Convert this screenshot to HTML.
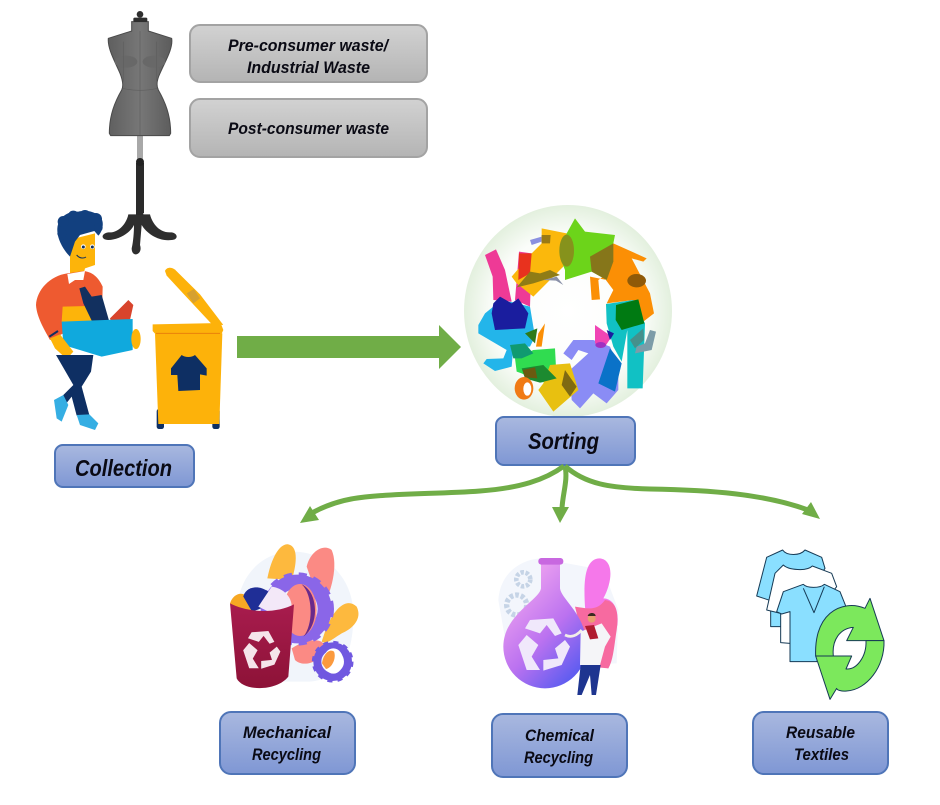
<!DOCTYPE html>
<html><head><meta charset="utf-8"><style>
html,body{margin:0;padding:0;background:#fff}
svg{display:block}
text{font-family:"Liberation Sans",sans-serif;font-weight:bold;font-style:italic;fill:#0a0a14}
</style></head><body>
<svg width="940" height="805" viewBox="0 0 940 805" xmlns="http://www.w3.org/2000/svg">
<defs>
<linearGradient id="gr" x1="0" y1="0" x2="0" y2="1"><stop offset="0" stop-color="#d2d2d2"/><stop offset="1" stop-color="#b4b4b4"/></linearGradient>
<linearGradient id="bl" x1="0" y1="0" x2="0" y2="1"><stop offset="0" stop-color="#a9b8df"/><stop offset="1" stop-color="#7f97d4"/></linearGradient>
<radialGradient id="halo"><stop offset="0" stop-color="#fff"/><stop offset=".72" stop-color="#fbfdfa"/><stop offset="1" stop-color="#e3f0de"/></radialGradient>
<linearGradient id="man" x1="0" y1="0" x2="1" y2="0"><stop offset="0" stop-color="#5f5f5f"/><stop offset=".5" stop-color="#777"/><stop offset="1" stop-color="#5c5c5c"/></linearGradient>
<linearGradient id="flask" x1=".2" y1=".1" x2=".8" y2=".95"><stop offset="0" stop-color="#f0a4f0"/><stop offset=".55" stop-color="#bb72f0"/><stop offset="1" stop-color="#5c5cf0"/></linearGradient>
<linearGradient id="binr" x1="0" y1="0" x2="0" y2="1"><stop offset="0" stop-color="#a81c4e"/><stop offset="1" stop-color="#8d1237"/></linearGradient>
</defs>

<!-- mannequin -->
<rect x="137" y="135" width="6" height="27" fill="#a8a8a8"/>
<rect x="136" y="163" width="8" height="50" fill="#2a2a2a"/>
<circle cx="140" cy="162" r="4" fill="#222"/>
<g transform="translate(90,5) scale(.33333)">
<circle cx="150" cy="28" r="10" fill="#2e2e2e"/>
<path d="M125,50 H175 V78 L245,100 C250,130 225,170 210,205 C198,230 200,245 205,255 C225,290 242,330 242,385 L238,392 H62 L58,385 C58,330 75,290 95,255 C100,245 100,230 90,205 C75,170 52,130 55,100 L125,78 Z" fill="url(#man)" stroke="#4a4a4a" stroke-width="3"/>
<rect x="130" y="38" width="42" height="13" rx="4" fill="#2e2e2e"/>
<ellipse cx="108" cy="170" rx="34" ry="18" fill="#686868"/>
<ellipse cx="192" cy="170" rx="34" ry="18" fill="#686868"/>
<path d="M150,78 V390 M98,250 C130,258 170,258 202,250 M100,110 V230 M200,110 V230" fill="none" stroke="#5e5e5e" stroke-width="2"/>
</g>

<!-- person + bin + stand foot -->
<g transform="translate(30,205) scale(.33333)">
<path d="M295,28 H360 C365,50 385,85 425,82 C445,85 445,105 425,105 C385,110 350,85 335,60 L330,120 C340,150 305,160 305,130 C310,110 312,80 312,60 C300,85 265,105 235,105 C212,105 212,85 235,82 C265,85 290,55 295,28 Z" fill="#2e2e2e"/>
<rect x="318" y="0" width="22" height="30" fill="#2a2a2a"/>
<path d="M135,100 L195,85 L195,180 L165,190 L160,210 L120,210 L120,140 Z" fill="#fdb40a"/>
<g fill="#12407f">
<path d="M82,70 C85,35 115,18 145,20 C175,12 215,25 218,52 C220,70 212,85 205,92 L193,78 L150,90 L135,110 L120,155 C105,140 80,105 82,70 Z"/>
<circle cx="100" cy="50" r="17"/><circle cx="130" cy="34" r="17"/><circle cx="165" cy="32" r="17"/><circle cx="198" cy="42" r="18"/><circle cx="205" cy="68" r="13"/><circle cx="96" cy="85" r="14"/><circle cx="108" cy="115" r="14"/>
</g>
<circle cx="160" cy="125" r="7" fill="#fff"/><circle cx="187" cy="125" r="7" fill="#fff"/>
<circle cx="160" cy="126" r="4.5" fill="#12305f"/><circle cx="187" cy="126" r="4.5" fill="#12305f"/>
<path d="M140,150 C150,162 162,160 168,156" fill="none" stroke="#12305f" stroke-width="3"/>
<path d="M112,205 C60,212 20,255 18,300 C20,340 50,385 60,405 L100,385 L100,352 L200,352 L217,290 L218,245 C205,215 185,200 160,198 Z" fill="#ee5a30"/>
<path d="M112,207 L165,198 L160,225 L135,225 L117,237 Z" fill="#fff"/>
<path d="M98,305 L175,303 L190,350 L95,350 Z" fill="#fdb40a"/>
<path d="M148,250 L165,245 L185,275 L215,270 L240,357 L190,357 L160,295 Z" fill="#12305f"/>
<path d="M240,340 L295,285 L310,300 L300,345 L245,357 Z" fill="#d8442c"/>
<path d="M95,350 L308,342 L308,435 L215,455 L100,420 Z" fill="#10a9dd"/>
<ellipse cx="318" cy="402" rx="14" ry="30" fill="#fdb40a"/>
<path d="M60,400 L90,388 L130,440 L110,462 L75,430 Z" fill="#fdb40a"/>
<path d="M58,395 L84,378" stroke="#12305f" stroke-width="6"/>
<path d="M78,450 L190,450 L183,500 L155,545 L178,630 L140,632 L125,575 L105,600 L100,570 L130,540 Z" fill="#0e2f63"/>
<path d="M72,585 L100,570 L115,600 L95,650 L80,640 Z" fill="#35aee3"/>
<path d="M140,630 L178,628 L205,655 L195,675 L150,660 Z" fill="#35aee3"/>

<rect x="380" y="612" width="22" height="60" rx="7" fill="#0e2f63"/>
<rect x="547" y="612" width="22" height="60" rx="7" fill="#0e2f63"/>
<path d="M375,385 H577 L568,657 H385 Z" fill="#fdb20a"/>
<path d="M405,198 C410,186 425,186 435,194 L510,268 L580,360 L545,357 L462,268 L410,212 Z" fill="#fdb20a"/>
<path d="M368,358 L572,354 L580,375 L575,386 H375 L368,378 Z" fill="#fdb20a"/>
<path d="M378,385 H570" stroke="#e9810a" stroke-width="3"/>
<path d="M470,265 L492,252 L510,280 L490,295 Z" fill="#d6a030"/>
<path d="M455,450 C465,458 485,458 495,450 L530,490 L530,512 L510,508 L510,555 L445,558 L442,510 L423,510 L423,490 Z" fill="#0e2f63"/>
</g>

<!-- waste boxes -->
<rect x="190" y="25" width="237" height="57" rx="10" fill="url(#gr)" stroke="#a3a3a3" stroke-width="2"/>
<rect x="190" y="99" width="237" height="58" rx="10" fill="url(#gr)" stroke="#a3a3a3" stroke-width="2"/>
<text x="228" y="51" font-size="17" textLength="160" lengthAdjust="spacingAndGlyphs">Pre-consumer waste/</text>
<text x="247" y="73" font-size="17" textLength="123" lengthAdjust="spacingAndGlyphs">Industrial Waste</text>
<text x="228" y="134" font-size="17" textLength="161" lengthAdjust="spacingAndGlyphs">Post-consumer waste</text>

<!-- main arrow -->
<polygon points="237,336 439,336 439,325 461,347 439,369 439,358 237,358" fill="#70ad47"/>

<!-- sorting art -->
<ellipse cx="568" cy="311" rx="104" ry="106" fill="url(#halo)"/>
<g transform="translate(450,190) scale(.33333)">
<path d="M240,150 L275,140 L275,155 L245,165 Z" fill="#8a90e0"/>
<path d="M105,195 L138,178 L165,240 L185,335 L130,330 L128,260 Z" fill="#ee3a96"/>
<path d="M207,185 L245,190 L240,350 L195,330 Z" fill="#ee3a96"/>
<path d="M275,115 L350,130 L340,230 L250,320 L200,280 L185,260 L245,190 L275,160 Z" fill="#fbb80c"/>
<path d="M207,190 L245,190 L240,250 L205,270 Z" fill="#e8321e"/>
<path d="M275,135 L302,135 L300,160 L275,160 Z" fill="#9a7a14"/>
<path d="M200,292 L240,245 L270,250 L300,240 L330,255 L250,280 Z" fill="#8f7c16"/>
<path d="M280,270 L320,260 L340,285 L318,272 Z" fill="#8a90a8"/>
<path d="M375,85 L405,125 L495,135 L490,160 L470,270 L425,245 L345,270 L345,240 L335,215 L330,190 L350,130 Z" fill="#6cd41a"/>
<ellipse cx="350" cy="182" rx="22" ry="48" fill="#86921c"/>
<path d="M490,160 L590,205 L580,215 L545,205 L600,310 L612,370 L580,395 L550,330 L470,340 L490,300 L460,260 L445,270 L450,328 L425,330 L420,260 L470,270 Z" fill="#fb8f05"/>
<path d="M420,200 L490,160 L490,215 L470,270 L425,245 Z" fill="#86761a"/>
<ellipse cx="560" cy="272" rx="28" ry="20" fill="#8f5a08"/>
<path d="M468,342 L550,330 L585,400 L578,595 L532,595 L532,420 L515,515 L490,470 L470,400 Z" fill="#11c1c4"/>
<path d="M498,345 L565,328 L583,400 L515,420 L497,390 Z" fill="#007a12"/>
<path d="M540,450 L580,415 L582,450 L555,475 Z" fill="#45908c"/>
<path d="M600,420 L618,425 L605,480 L555,490 L560,470 L585,460 Z" fill="#7c9ca8"/>
<path d="M340,490 L370,450 L430,450 L480,470 L505,530 L505,600 L470,640 L430,610 L390,655 L365,630 L360,540 L415,490 L385,480 L365,510 Z" fill="#8a8cf5"/>
<path d="M480,475 L515,520 L495,605 L445,580 Z" fill="#0a72c8"/>
<path d="M435,405 L485,440 L465,470 L435,460 Z" fill="#f044b4"/>
<path d="M470,420 L492,430 L480,450 Z" fill="#1a1d9e"/>
<ellipse cx="452" cy="465" rx="16" ry="9" fill="#a030c0"/>
<path d="M130,350 L180,335 L240,350 L255,440 L240,470 L190,470 L185,530 L135,543 L100,520 L110,507 L160,505 L170,480 L85,430 L85,405 L105,370 Z" fill="#23b5ea"/>
<path d="M130,340 L150,320 L185,340 L205,325 L235,370 L225,415 L135,420 L125,370 Z" fill="#1a1d9e"/>
<path d="M285,400 L275,470 L258,470 L265,430 Z" fill="#fb8f05"/>
<path d="M225,430 L262,415 L255,460 Z" fill="#2f7a1a"/>
<path d="M195,505 L250,480 L315,475 L320,570 L270,578 L215,550 L200,545 Z" fill="#30dc50"/>
<path d="M180,465 L225,460 L250,490 L215,505 L190,505 Z" fill="#109a70"/>
<path d="M300,525 L360,520 L385,600 L310,665 L265,600 L280,580 Z" fill="#e8c010"/>
<path d="M215,535 L280,525 L320,565 L270,578 L225,565 Z" fill="#1c8a30"/>
<path d="M218,540 L255,532 L262,565 L225,562 Z" fill="#6a5a10"/>
<path d="M345,540 L380,590 L360,620 L335,585 Z" fill="#7f6a12"/>
<ellipse cx="222" cy="595" rx="28" ry="34" fill="#f07a14"/>
<ellipse cx="232" cy="597" rx="12" ry="20" fill="#fff"/>
</g>

<!-- boxes -->
<rect x="55" y="445" width="139" height="42" rx="8" fill="url(#bl)" stroke="#4f75b8" stroke-width="2"/>
<rect x="496" y="417" width="139" height="48" rx="8" fill="url(#bl)" stroke="#4f75b8" stroke-width="2"/>
<rect x="220" y="712" width="135" height="62" rx="11" fill="url(#bl)" stroke="#4f75b8" stroke-width="2"/>
<rect x="492" y="714" width="135" height="63" rx="11" fill="url(#bl)" stroke="#4f75b8" stroke-width="2"/>
<rect x="753" y="712" width="135" height="62" rx="11" fill="url(#bl)" stroke="#4f75b8" stroke-width="2"/>
<text x="75" y="476" font-size="23" textLength="97" lengthAdjust="spacingAndGlyphs">Collection</text>
<text x="528" y="449" font-size="23" textLength="71" lengthAdjust="spacingAndGlyphs">Sorting</text>
<text x="243" y="738" font-size="17" textLength="88" lengthAdjust="spacingAndGlyphs">Mechanical</text>
<text x="252" y="760" font-size="17" textLength="69" lengthAdjust="spacingAndGlyphs">Recycling</text>
<text x="525" y="741" font-size="17" textLength="69" lengthAdjust="spacingAndGlyphs">Chemical</text>
<text x="524" y="763" font-size="17" textLength="69" lengthAdjust="spacingAndGlyphs">Recycling</text>
<text x="786" y="738" font-size="17" textLength="69" lengthAdjust="spacingAndGlyphs">Reusable</text>
<text x="794" y="760" font-size="17" textLength="55" lengthAdjust="spacingAndGlyphs">Textiles</text>

<!-- curved arrows -->
<g fill="none" stroke="#70ad47" stroke-width="5">
<path d="M564,466 C545,480 520,488 480,491 C440,494 400,493 365,497 C345,499 328,504 312,513"/>
<path d="M565,466 C568,480 563,492 562,508"/>
<path d="M565,466 C585,484 610,488 650,489 C710,490 765,494 808,510"/>
</g>
<polygon points="300,523 310,506 319,520" fill="#70ad47"/>
<polygon points="552,507 569,507 560,523" fill="#70ad47"/>
<polygon points="820,519 811,502 802,514" fill="#70ad47"/>

<!-- mechanical art -->
<g transform="translate(210,535) scale(.33333)">
<path d="M80,240 C80,130 150,50 250,50 C350,50 430,130 430,240 C430,350 400,430 300,440 L90,440 Z" fill="#f1f5fb"/>
<path d="M172,130 C185,65 210,25 235,28 C268,35 258,95 245,135 Z" fill="#fdb93e"/>
<path d="M290,95 C300,50 340,25 365,45 C385,90 365,170 335,225 Z" fill="#fb8a84"/>
<path d="M345,290 C370,220 410,185 440,215 C460,255 420,285 395,295 C370,310 350,330 335,320 Z" fill="#fdb93e"/>
<path d="M245,340 C290,310 345,305 345,340 C335,380 280,400 255,375 Z" fill="#fb8a84"/>
<circle cx="262" cy="222" r="82" fill="none" stroke="#8a66e8" stroke-width="42"/>
<circle cx="262" cy="222" r="102" fill="none" stroke="#8a66e8" stroke-width="16" stroke-dasharray="24 20"/>
<ellipse cx="270" cy="225" rx="50" ry="78" fill="#fb8a84"/>
<path d="M275,148 C325,170 330,270 280,305 C310,270 310,180 275,148 Z" fill="#6a2a8a"/>
<circle cx="368" cy="380" r="46" fill="none" stroke="#7058e0" stroke-width="24"/>
<circle cx="368" cy="380" r="57" fill="none" stroke="#7058e0" stroke-width="11" stroke-dasharray="15 15"/>
<ellipse cx="370" cy="378" rx="30" ry="38" fill="#fff"/>
<path d="M336,385 C340,355 360,340 372,350 C380,370 365,400 348,402 Z" fill="#fb9a3e"/>
<path d="M60,205 C70,175 95,172 105,180 L125,230 L70,218 Z" fill="#f7a823"/>
<path d="M100,185 C105,160 140,145 175,170 C180,195 165,225 125,228 Z" fill="#1f2e96"/>
<path d="M145,215 L185,155 C220,160 245,185 245,215 L180,232 Z" fill="#f3e8f8"/>
<path d="M60,205 C120,235 200,235 252,208 L235,425 C200,470 100,470 80,430 Z" fill="url(#binr)"/>
<g transform="translate(155,345) scale(.72) translate(-162,-284)" fill="#f5e4ea">
<polygon points="120,210 190,205 215,250 195,258 170,225 150,250 105,235"/>
<polygon points="85,285 110,255 145,285 125,320 150,360 110,360"/>
<polygon points="240,290 215,345 160,362 160,330 205,325 195,295 225,270"/>
</g>
</g>

<!-- chemical art -->
<g transform="translate(490,550) scale(.33333)">
<path d="M25,150 C30,70 90,30 150,25 L340,60 L385,180 L380,340 L60,350 Z" fill="#f3f6fc"/>
<circle cx="100" cy="88" r="21" fill="none" stroke="#c6d4e6" stroke-width="14" stroke-dasharray="10 5"/>
<circle cx="80" cy="165" r="30" fill="none" stroke="#c6d4e6" stroke-width="16" stroke-dasharray="11 6"/>
<path d="M285,170 C280,90 285,25 330,25 C372,30 368,95 340,145 C365,145 388,170 382,225 C368,275 370,320 355,355 L300,340 Z" fill="#f578ea"/>
<path d="M255,170 C290,175 320,185 345,150 C385,155 385,200 380,240 C372,290 370,330 355,355 L300,350 Z" fill="#f76aa0"/>
<path d="M153,40 H210 V115 C215,150 290,195 290,290 A125,125 0 1 1 40,290 C40,195 148,150 153,115 Z" fill="url(#flask)"/>
<rect x="145" y="24" width="75" height="20" rx="9" fill="#c868e0"/>
<g fill="#f0e8fb">
<polygon points="120,210 190,205 215,250 195,258 170,225 150,250 105,235"/>
<polygon points="85,285 110,255 145,285 125,320 150,360 110,360"/>
<polygon points="240,290 215,345 160,362 160,330 205,325 195,295 225,270"/>
</g>
<path d="M225,255 C245,265 262,255 275,240" fill="none" stroke="#f2ede8" stroke-width="8"/>
<path d="M272,345 H332 L318,435 H305 L300,375 L275,435 H262 Z" fill="#1e3590"/>
<path d="M272,245 L335,220 L362,260 L345,290 L330,345 H270 Z" fill="#f5f5f8"/>
<circle cx="305" cy="206" r="12" fill="#e8a070"/>
<path d="M293,198 C296,186 316,186 317,198 Z" fill="#3a2a20"/>
<polygon points="285,228 312,225 325,265 300,268" fill="#b01c30"/>
</g>

<!-- reusable art -->
<g transform="translate(640,470) scale(.33333)" stroke="#163a55" stroke-width="3" stroke-linejoin="round">
<path d="M428,240 C440,258 480,258 495,240 L545,262 L555,295 L440,470 L392,470 L392,392 L350,378 L380,262 Z" fill="#8adfff"/>
<path d="M430,285 C445,300 500,305 517,288 L575,310 L590,350 L450,520 L422,518 L422,430 L380,420 L405,310 Z" fill="#fff"/>
<path d="M490,343 C500,355 540,355 553,343 L600,365 L618,410 L530,575 L450,575 L450,425 L425,432 L410,425 L430,365 Z" fill="#8adfff"/>
<path d="M490,355 L522,428 L553,350" fill="none"/>
<path d="M580,558 C575,510 600,475 640,472 L620,512 L732,512 L690,385 L675,415 C640,400 600,405 570,430 C535,460 525,510 527,558 Z" fill="#7ce85c"/>
<path d="M527,558 L635,558 L618,597 C650,600 680,560 678,512 L732,512 C735,590 680,660 620,663 C605,665 590,660 590,655 L570,688 Z" fill="#7ce85c"/>
</g>
</svg>
</body></html>
